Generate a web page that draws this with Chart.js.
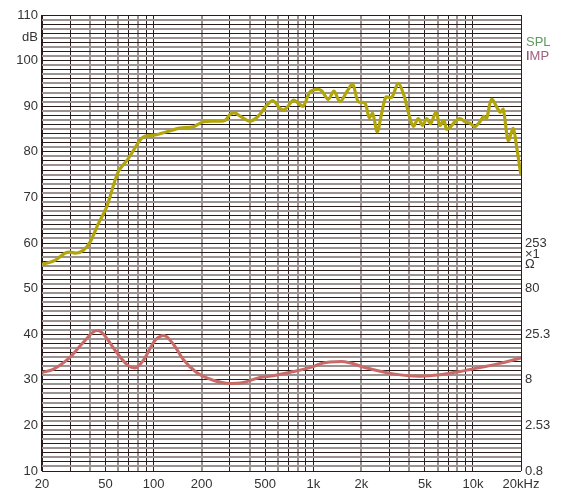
<!DOCTYPE html>
<html>
<head>
<meta charset="utf-8">
<script src="https://cdn.jsdelivr.net/npm/chart.js@4.4.0/dist/chart.umd.min.js"></script>
<style>
  html, body { margin: 0; padding: 0; background: #fff; }
  #wrap { width: 569px; height: 494px; }
</style>
</head>
<body>
<div id="wrap"><canvas id="chartFR" width="569" height="494"></canvas></div>
<script>
// SPL response (Hz, dB)
const splFreq = [20, 24.1, 27.9, 29.9, 33, 36.3, 40, 45, 50.8, 60, 69.4, 82, 88, 102, 121, 146, 177, 205, 280, 301, 323, 356, 401, 452, 511, 561, 619, 665, 749, 805, 865, 953, 1050, 1128, 1241, 1347, 1469, 1618, 1764, 1912, 2106, 2241, 2355, 2516, 2680, 2851, 3096, 3404, 3698, 3934, 4227, 4543, 4840, 5128, 5433, 5864, 6213, 6582, 6843, 7250, 7712, 8288, 8907, 9572, 10288, 11056, 11716, 12180, 13092, 14752, 15476, 16632, 17876, 18774, 20000];
const splDb = [55.3, 56.2, 57.8, 58.0, 57.8, 58.4, 60.2, 64.2, 67.9, 75.6, 78.5, 82.5, 83.4, 83.7, 84.4, 85.2, 85.5, 86.6, 86.9, 88.2, 88.5, 87.6, 86.7, 87.8, 90.2, 91.2, 89.5, 89.3, 91.3, 90.7, 90.0, 93.1, 93.7, 93.4, 91.5, 93.3, 91.0, 93.1, 94.8, 91.0, 90.7, 87.5, 88.4, 84.4, 88.4, 92.0, 91.9, 95.0, 92.4, 88.7, 85.6, 87.3, 85.8, 87.3, 86.2, 88.7, 85.8, 86.9, 84.9, 85.5, 86.6, 87.3, 86.6, 86.3, 85.5, 86.6, 87.8, 87.3, 91.5, 88.7, 89.3, 82.5, 85.1, 81.1, 74.8];

// impedance curve, in left-axis dB units (right axis scale)
const impFreq = [20, 23.5, 29.9, 36.3, 44, 47.3, 58.7, 69.4, 76.5, 86, 102, 116, 133, 153, 186, 236, 301, 364, 463, 561, 707, 1000, 1101, 1505, 2158, 3170, 4654, 6213, 8288, 11056, 14752, 20000];
const impDb = [31.6, 32.3, 34.9, 38.2, 40.8, 40.4, 36.0, 33.1, 32.6, 34.2, 38.6, 39.7, 37.8, 34.5, 31.6, 29.9, 29.2, 29.4, 30.5, 30.9, 31.6, 32.9, 33.5, 34.0, 32.6, 31.3, 30.8, 31.1, 31.8, 32.7, 33.6, 34.8];

const freqTicks = [20, 30, 40, 50, 60, 70, 80, 90, 100, 200, 300, 400, 500, 600, 700, 800, 900, 1000, 2000, 3000, 4000, 5000, 6000, 7000, 8000, 9000, 10000, 20000];
const freqLabels = { 20: "20", 50: "50", 100: "100", 200: "200", 500: "500", 1000: "1k", 2000: "2k", 5000: "5k", 10000: "10k", 20000: "20kHz" };
const ohmLabels = { 10: "0.8", 20: "2.53", 30: "8", 40: "25.3", 50: "80", 55.2: "Ω", 57.6: "×1", 60: "253" };

const DARK = "#2b1c1c";
const GRAY = "#9c9292";
const TXT = "#333";
const FONT = { family: "'Liberation Sans', Arial, sans-serif", size: 13 };

const toXY = (fs, vs) => fs.map((f, i) => ({ x: f, y: vs[i] }));

function firstDigit(v) {
  return Math.round(v / Math.pow(10, Math.floor(Math.log10(v) + 1e-9)));
}

// legend text at the right of the plot
const sideLegend = {
  id: "sideLegend",
  afterDraw(chart) {
    const c = chart.ctx;
    c.save();
    c.font = "13px 'Liberation Sans', Arial, sans-serif";
    c.textBaseline = "middle";
    c.fillStyle = "#5e9a60";
    c.fillText("SPL", 526, 42);
    c.fillStyle = "#7a1f4e";
    c.fillText("I", 526, 56);
    const w = c.measureText("I").width;
    c.fillStyle = "#a0607e";
    c.fillText("MP", 526 + w, 56);
    c.restore();
  }
};

new Chart(document.getElementById("chartFR").getContext("2d"), {
  type: "line",
  data: {
    datasets: [
      {
        label: "SPL",
        data: toXY(splFreq, splDb),
        borderColor: "#b2a50c",
        borderWidth: 3.2,
        pointRadius: 0,
        tension: 0.3,
        yAxisID: "y"
      },
      {
        label: "IMP",
        data: toXY(impFreq, impDb),
        borderColor: "#c76a68",
        borderWidth: 3,
        pointRadius: 0,
        cubicInterpolationMode: "monotone",
        yAxisID: "y"
      }
    ]
  },
  options: {
    responsive: false,
    animation: false,
    layout: { padding: { top: 15, left: 0, right: 0, bottom: 0 } },
    plugins: { legend: { display: false }, tooltip: { enabled: false } },
    scales: {
      x: {
        type: "logarithmic",
        min: 20,
        max: 20000,
        afterBuildTicks: (axis) => { axis.ticks = freqTicks.map((v) => ({ value: v })); },
        afterFit: (axis) => { axis.height = 23; },
        ticks: {
          autoSkip: false,
          maxRotation: 0,
          padding: 6,
          color: TXT,
          font: FONT,
          callback: (v) => freqLabels[v] || ""
        },
        grid: {
          drawTicks: false,
          lineWidth: (ctx) => (ctx.tick && firstDigit(ctx.tick.value) % 2 === 0 && ctx.tick.value !== 20000 ? 2 : 1),
          color: (ctx) => {
            const v = ctx.tick ? ctx.tick.value : 20;
            if (v === 20 || v === 20000) return DARK;
            return firstDigit(v) % 2 === 1 ? DARK : GRAY;
          }
        },
        border: { display: false }
      },
      y: {
        type: "linear",
        position: "left",
        min: 10,
        max: 110,
        afterBuildTicks: (axis) => {
          const t = [];
          for (let v = 10; v <= 110; v++) t.push({ value: v });
          axis.ticks = t;
        },
        afterFit: (axis) => { axis.width = 42; },
        ticks: {
          autoSkip: false,
          padding: 4,
          color: TXT,
          font: FONT,
          callback: (v) => (v % 10 === 0 ? String(v) : v === 105 ? "dB" : "")
        },
        grid: {
          drawTicks: false,
          lineWidth: (ctx) => (ctx.tick && ctx.tick.value % 2 !== 0 ? 2 : 1),
          color: (ctx) => (ctx.tick && ctx.tick.value % 2 !== 0 ? GRAY : DARK)
        },
        border: { display: false }
      },
      y2: {
        type: "linear",
        position: "right",
        min: 10,
        max: 110,
        afterBuildTicks: (axis) => {
          axis.ticks = [10, 20, 30, 40, 50, 55.2, 57.6, 60].map((v) => ({ value: v }));
        },
        afterFit: (axis) => { axis.width = 48; },
        ticks: {
          autoSkip: false,
          padding: 4,
          color: TXT,
          font: FONT,
          callback: (v) => ohmLabels[v] || ""
        },
        grid: { display: false, drawTicks: false },
        border: { display: false }
      }
    }
  },
  plugins: [sideLegend]
});
</script>
</body>
</html>
